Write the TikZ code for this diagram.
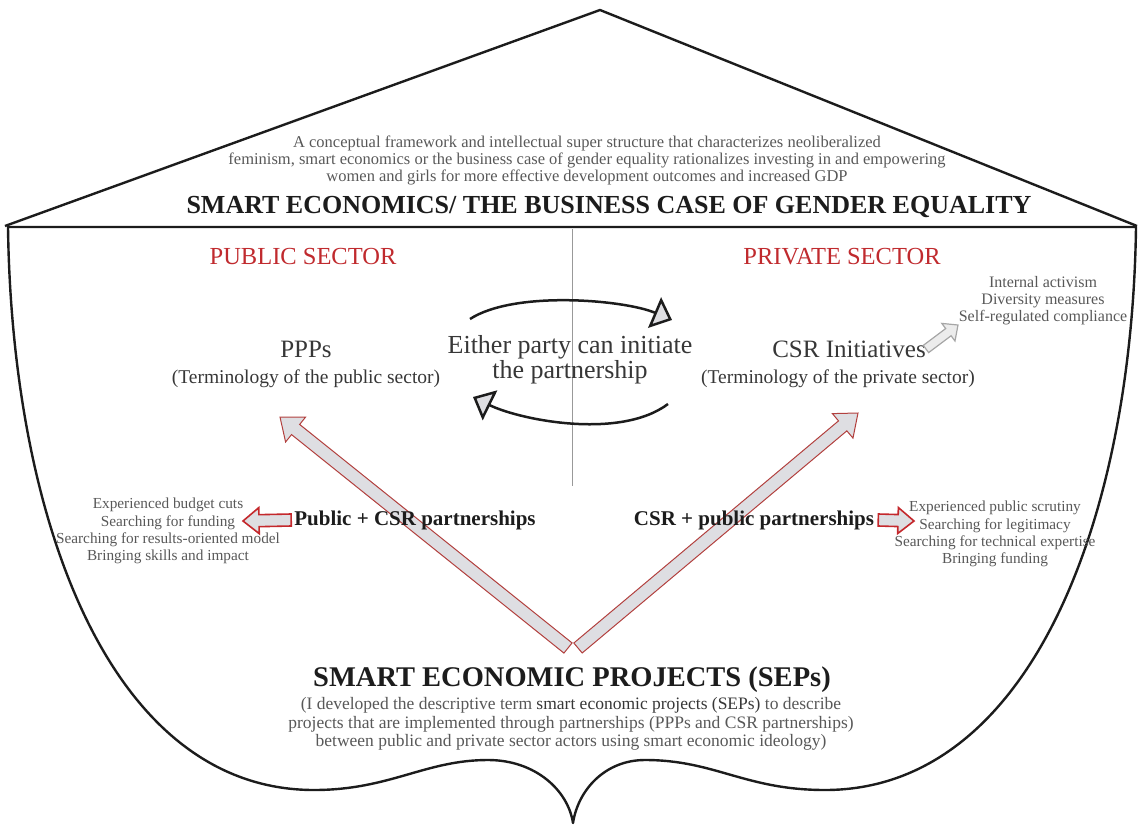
\documentclass[tikz,border=0pt]{standalone}
\usepackage{fontspec}
\setmainfont{Liberation Serif}
\usepackage{tikz}
\usetikzlibrary{arrows.meta,calc,positioning}

\definecolor{inkblack}{RGB}{28,28,28}
\definecolor{labelgray}{RGB}{55,55,55}
\definecolor{notegray}{RGB}{88,88,88}
\definecolor{sectorred}{RGB}{192,42,46}
\definecolor{arrowred}{RGB}{178,64,62}
\definecolor{sidered}{RGB}{196,40,44}
\definecolor{arrowfill}{RGB}{222,222,226}

\tikzset{
  every node/.style={inner sep=0pt},
  shieldline/.style={draw=inkblack, line width=2.4pt, line join=round},
  roofnote/.style={text=notegray, align=center, font=\fontsize{16.5}{17}\selectfont},
  headline/.style={text=inkblack, font=\bfseries\fontsize{26}{28}\selectfont},
  sector/.style={text=sectorred, font=\fontsize{24.5}{26}\selectfont},
  actor/.style={text=labelgray, font=\fontsize{25}{26}\selectfont},
  term/.style={text=labelgray, font=\fontsize{19.5}{21}\selectfont},
  either/.style={text=labelgray, align=center, font=\fontsize{26}{25}\selectfont},
  featnote/.style={text=notegray, align=center, font=\fontsize{16}{17}\selectfont},
  listnote/.style={text=notegray, align=center, font=\fontsize{15.3}{17.3}\selectfont},
  partner/.style={text=inkblack, font=\bfseries\fontsize{21}{23}\selectfont},
  seps/.style={text=inkblack, font=\bfseries\fontsize{28.5}{30}\selectfont},
  sepsnote/.style={text=notegray, align=center, font=\fontsize{17.5}{18.7}\selectfont},
  bigarrow/.style={draw=arrowred, fill=arrowfill, line width=1pt},
  sidearrow/.style={draw=sidered, fill=arrowfill, line width=1.6pt},
  grayarrow/.style={draw=gray!70, fill=gray!15, line width=1.2pt},
  turnarrow/.style={draw=inkblack, line width=2.5pt,
    -{Triangle[fill=arrowfill, length=19pt, width=33pt]}},
  divider/.style={draw=gray!80, line width=0.8pt}
}

% block arrow: style, tail, tip, shaft half width, head half width, head length
\newcommand\blockarrow[6]{%
  \path ($(#3)!#6!(#2)$) coordinate (arrow-base);
  \draw[#1] ($(#2)!#4!90:(#3)$) -- ($(arrow-base)!#4!-90:(#2)$)
    -- ($(arrow-base)!#5!-90:(#2)$) -- (#3)
    -- ($(arrow-base)!#5!90:(#2)$) -- ($(arrow-base)!#4!90:(#2)$)
    -- ($(#2)!#4!-90:(#3)$) -- cycle;
}

\begin{document}
\begin{tikzpicture}[x=1pt, y=-1pt]
\useasboundingbox (0,0) rectangle (1138,827);

% roof and shield
\draw[shieldline] (5,226) -- (600,10) -- (1137,226);
\draw[shieldline] (8,227) .. controls (12,520) and (110,790) .. (314,790)
  .. controls (390,790) and (425,760) .. (488,760)
  .. controls (535,760) and (568,790) .. (573,823)
  .. controls (578,790) and (605,760) .. (645,760)
  .. controls (715,760) and (745,790) .. (825,790)
  .. controls (1030,790) and (1132,520) .. (1136,227) -- cycle;

\coordinate (mid-top) at (572,229);
\coordinate (mid-bot) at (572,486);
\draw[divider] (mid-top) -- (mid-bot);

% arrows from the projects up to both sectors
\coordinate (sep-l) at (568,648);
\coordinate (sep-r) at (578,648);
\coordinate (ppp-tip) at (280,417);
\coordinate (csr-tip) at (858,413);
\foreach \tail/\tip in {sep-l/ppp-tip, sep-r/csr-tip}
  \blockarrow{bigarrow}{\tail}{\tip}{6.5pt}{16pt}{20pt};

% roof
\node[roofnote] (frame) at (587,160) {A conceptual framework and intellectual super structure that characterizes neoliberalized\\
  feminism, smart economics or the business case of gender equality rationalizes investing in and empowering\\
  women and girls for more effective development outcomes and increased GDP};
\node[headline] (smartec) at (609,207) {SMART ECONOMICS/ THE BUSINESS CASE OF GENDER EQUALITY};

% sectors
\node[sector] (public) at (303,257) {PUBLIC SECTOR};
\node[sector] (private) at (842,257) {PRIVATE SECTOR};

\node[actor] (ppp) at (306,349) {PPPs};
\node[term] (ppp-term) at (306,379) {(Terminology of the public sector)};
\node[actor] (csr) at (849,349) {CSR Initiatives};
\node[term] (csr-term) at (838,379) {(Terminology of the private sector)};

\node[either] (either) at (570,360) {Either party can initiate\\the partnership};

\coordinate (turn-a) at (470,319);
\coordinate (turn-b) at (672,320);
\coordinate (turn-c) at (668,404);
\coordinate (turn-d) at (473,397);
\draw[turnarrow] (turn-a) .. controls (515,290) and (625,300) .. (turn-b);
\draw[turnarrow] (turn-c) .. controls (620,440) and (520,420) .. (turn-d);

\node[featnote] (csr-feat) at (1043,301) {Internal activism\\Diversity measures\\Self-regulated compliance};
\coordinate (feat-tip) at (958,325);
\blockarrow{grayarrow}{csr.east}{feat-tip}{4.5pt}{11pt}{12pt}

% partnerships
\node[partner] (pub-csr) at (415,520) {Public + CSR partnerships};
\node[partner] (csr-pub) at (754,520) {CSR + public partnerships};

\node[listnote] (pub-list) at (168,531) {Experienced budget cuts\\Searching for funding\\Searching for results-oriented model\\Bringing skills and impact};
\node[listnote] (csr-list) at (995,534) {Experienced public scrutiny\\Searching for legitimacy\\Searching for technical expertise\\Bringing funding};

\coordinate (pub-tip) at (243,521);
\coordinate (csr-side) at (914,521);
\blockarrow{sidearrow}{$(pub-csr.west)+(-3,0)$}{pub-tip}{6pt}{13pt}{16pt}
\blockarrow{sidearrow}{$(csr-pub.east)+(4,0)$}{csr-side}{6pt}{13pt}{16pt}

% projects
\node[seps] (seps) at (572,680) {SMART ECONOMIC PROJECTS (SEPs)};
\node[sepsnote] (seps-note) at (571,724) {(I developed the descriptive term {\color{labelgray}smart economic projects (SEPs)} to describe\\
  projects that are implemented through partnerships (PPPs and CSR partnerships)\\
  between public and private sector actors using smart economic ideology)};

\end{tikzpicture}
\end{document}
